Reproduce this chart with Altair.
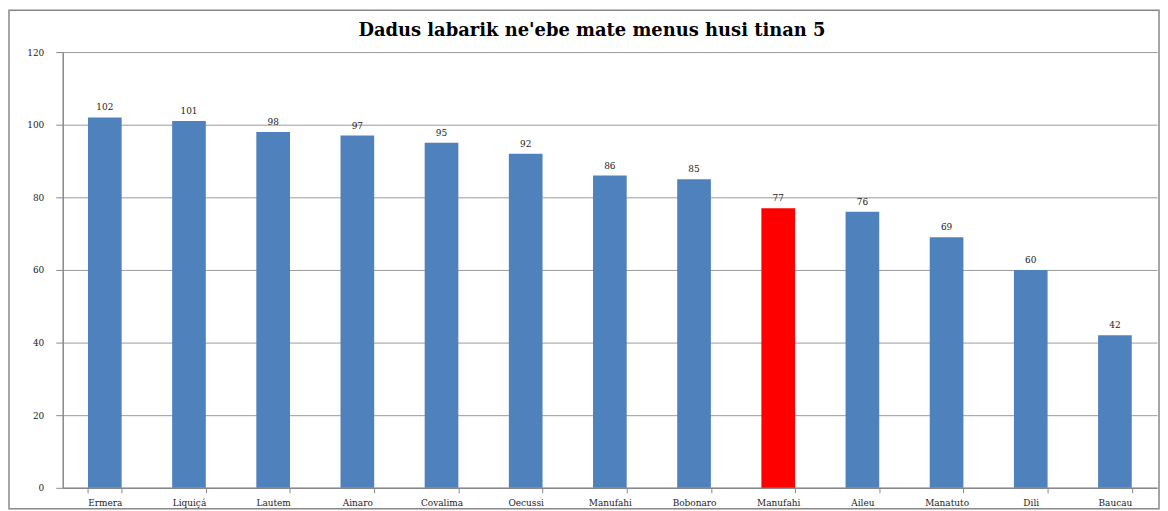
import json
import altair as alt
import pandas as pd

categories = ["Ermera", "Liquiçá", "Lautem", "Ainaro", "Covalima", "Oecussi",
              "Manufahi", "Bobonaro", "Manufahi", "Aileu", "Manatuto", "Dili", "Baucau"]
values = [102, 101, 98, 97, 95, 92, 86, 85, 77, 76, 69, 60, 42]
highlight_index = 8
title_text = "Dadus labarik ne'ebe mate menus husi tinan 5"
y_ticks = [0, 20, 40, 60, 80, 100, 120]

df = pd.DataFrame({"idx": list(range(len(categories))),
                   "name": categories, "value": values})

W, H = 1100, 438
FONT = "DejaVu Serif"
label_expr = json.dumps(categories) + "[datum.value]"

base = alt.Chart(df)

x_enc = alt.X("idx:O", title=None,
              scale=alt.Scale(paddingInner=0.6, paddingOuter=0.3),
              axis=alt.Axis(labelExpr=label_expr, labelAngle=0, labelFont=FONT,
                            labelFontSize=9, labelColor="#222", labelPadding=6,
                            tickBand="extent", tickColor="#888", tickSize=5,
                            domainColor="#888", domainWidth=1.5, grid=False))
y_enc = alt.Y("value:Q", title=None,
              scale=alt.Scale(domain=[0, 120], nice=False),
              axis=alt.Axis(values=y_ticks, labelFont=FONT, labelFontSize=9,
                            labelColor="#222", labelPadding=12, tickColor="#888",
                            tickSize=7, domainColor="#888", domainWidth=1.5,
                            gridColor="#999", gridWidth=1))

bars = base.mark_bar().encode(
    x=x_enc, y=y_enc,
    color=alt.condition(alt.datum.idx == highlight_index,
                        alt.value("#FF0000"), alt.value("#4F81BD")),
)

labels = base.mark_text(baseline="bottom", dy=-5, font=FONT, fontSize=9,
                        color="#222").encode(
    x="idx:O", y="value:Q", text="value:Q")

one = alt.Data(values=[{"t": title_text}])

frame = alt.Chart(one).mark_rect(
    filled=False, stroke="#888", strokeWidth=1.5).encode(
    x=alt.value(-54), x2=alt.value(W + 2),
    y=alt.value(-42), y2=alt.value(H + 21))

title = alt.Chart(one).mark_text(
    font=FONT, fontSize=18, fontWeight="bold", color="#000",
    align="center", baseline="middle").encode(
    x=alt.value(W / 2 - 18), y=alt.value(-21), text="t:N")

chart = alt.layer(frame, title, bars, labels).properties(
    width=W, height=H, padding=0,
).configure_view(stroke=None)

chart.save("out.html", embed_options={"renderer": "svg", "actions": False})
